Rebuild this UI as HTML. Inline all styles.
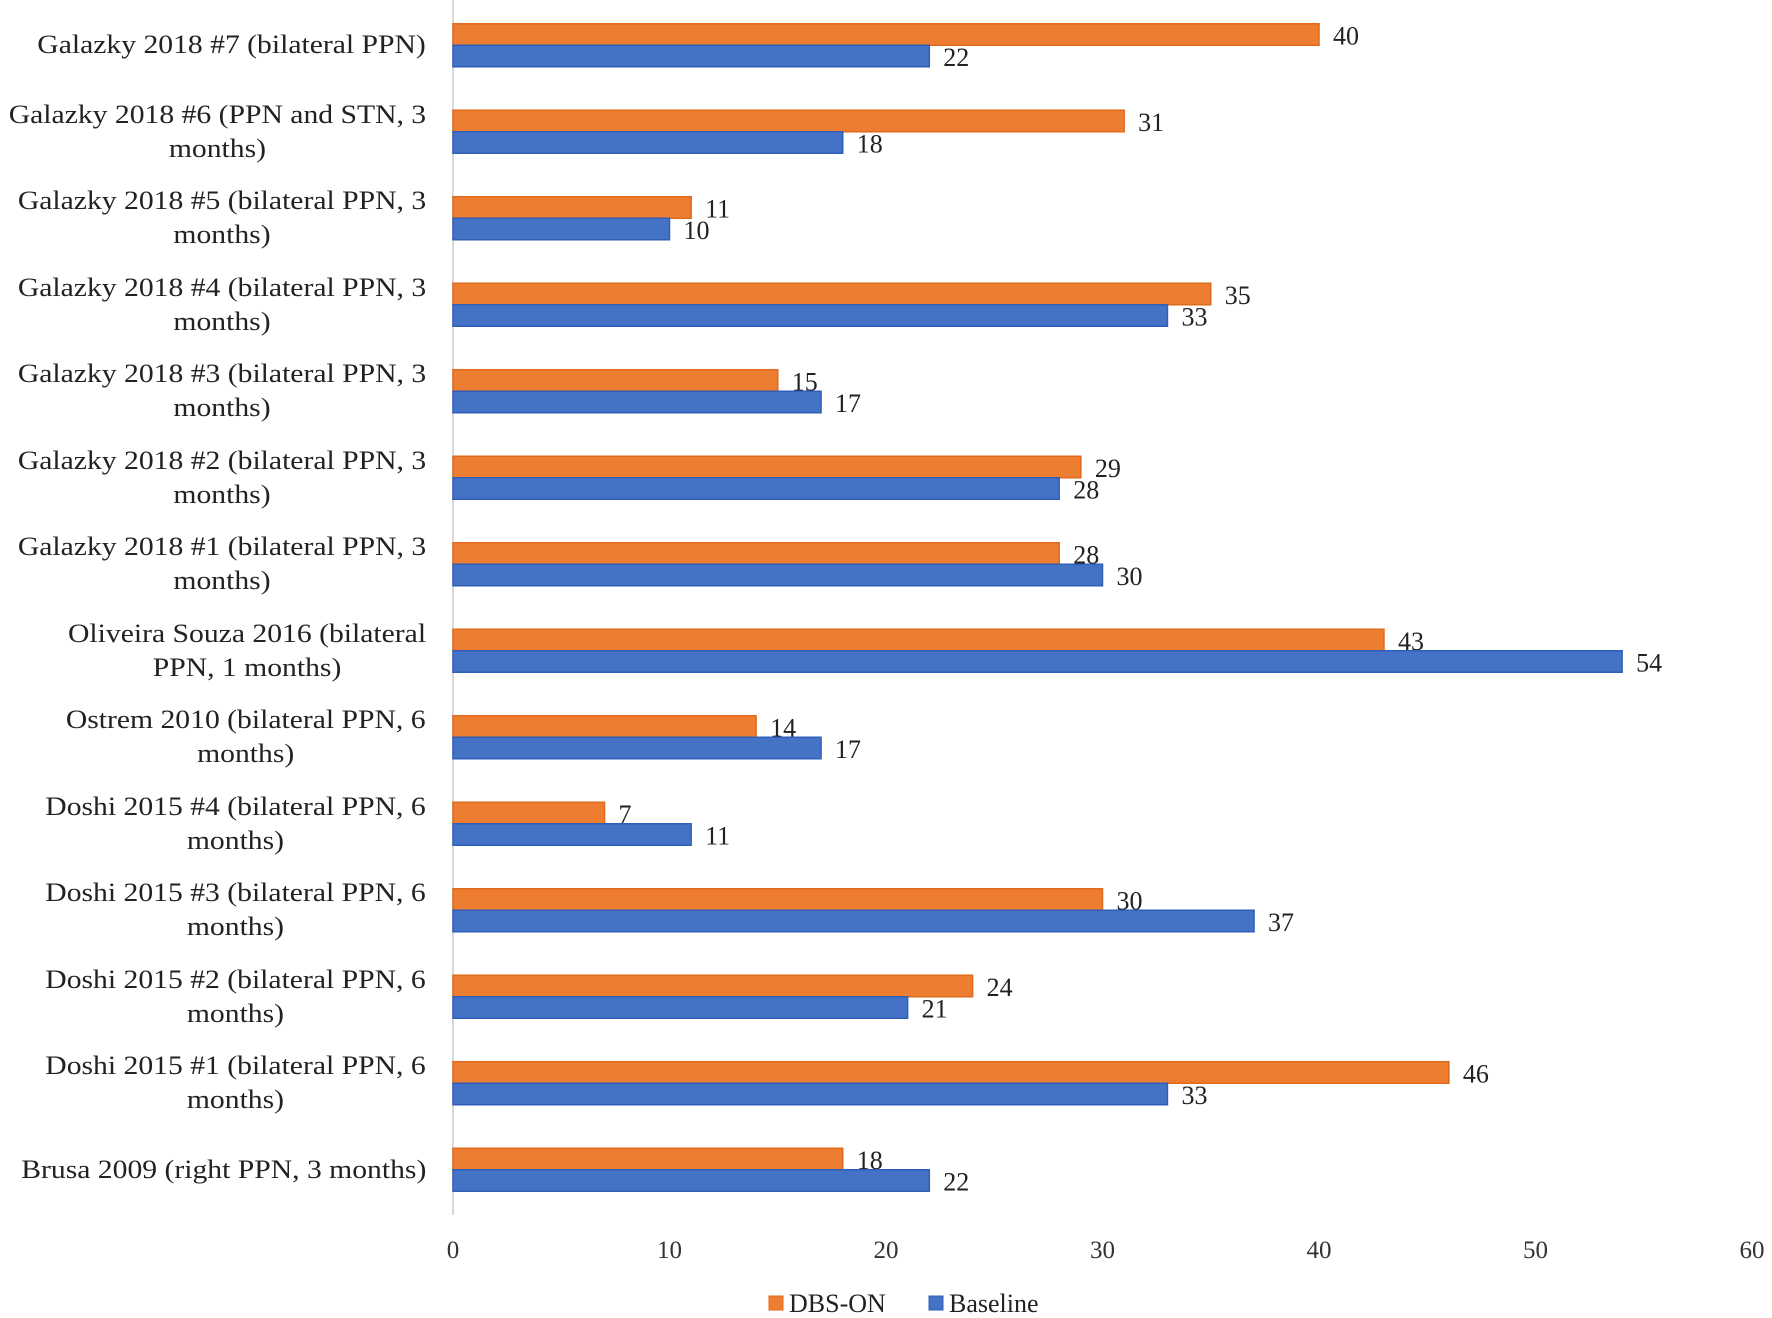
<!DOCTYPE html>
<html><head><meta charset="utf-8"><style>
body{margin:0;background:#fff;}
#wrap{position:relative;width:1772px;height:1318px;overflow:hidden;font-family:"Liberation Serif",serif;color:#222;}
.cat{position:absolute;right:1346px;text-align:center;font-size:26px;line-height:34px;white-space:nowrap;transform:scaleX(1.14);transform-origin:right center;}
svg{position:absolute;left:0;top:0;}
</style></head><body>
<div id="wrap">
<svg id="svg" width="1772" height="1318"></svg>
</div>
<script>
const categories=[
["Galazky 2018 #7 (bilateral PPN)"],
["Galazky 2018 #6 (PPN and STN, 3","months)"],
["Galazky 2018 #5 (bilateral PPN, 3","months)"],
["Galazky 2018 #4 (bilateral PPN, 3","months)"],
["Galazky 2018 #3 (bilateral PPN, 3","months)"],
["Galazky 2018 #2 (bilateral PPN, 3","months)"],
["Galazky 2018 #1 (bilateral PPN, 3","months)"],
["Oliveira Souza 2016 (bilateral","PPN, 1 months)"],
["Ostrem 2010 (bilateral PPN, 6","months)"],
["Doshi 2015 #4 (bilateral PPN, 6","months)"],
["Doshi 2015 #3 (bilateral PPN, 6","months)"],
["Doshi 2015 #2 (bilateral PPN, 6","months)"],
["Doshi 2015 #1 (bilateral PPN, 6","months)"],
["Brusa 2009 (right PPN, 3 months)"]];
const dbsOn=[40,31,11,35,15,29,28,43,14,7,30,24,46,18];
const baseline=[22,18,10,33,17,28,30,54,17,11,37,21,33,22];
const ticks=[0,10,20,30,40,50,60];

const NS="http://www.w3.org/2000/svg";
const svg=document.getElementById('svg');
const wrap=document.getElementById('wrap');
const x0=453,x1=1752,xmax=60;
const xs=v=>x0+(x1-x0)*v/xmax;
const rowTop=2,rowH=86.5;
const yc=i=>rowTop+rowH*(i+0.5);
const bh=21.5;
function mk(tag,attrs){const e=document.createElementNS(NS,tag);for(const k in attrs)e.setAttribute(k,attrs[k]);svg.appendChild(e);return e;}

const ax=mk('line',{x1:x0,x2:x0,y1:0,y2:1215,stroke:'#d9d9d9','stroke-width':2});



categories.forEach((c,i)=>{
  const d=document.createElement('div');
  d.className='cat';
  d.innerHTML=c.join('<br>');
  d.style.top=(yc(i)-17*c.length)+'px';
  
  
  wrap.appendChild(d);
  [[dbsOn[i],'#ED7D31','#E0691A',yc(i)-bh,'bar-dbs-on'],[baseline[i],'#4472C4','#2F5FB8',yc(i),'bar-baseline']].forEach(s=>{
    const r=mk('rect',{x:x0,y:s[3],width:xs(s[0])-x0,height:bh,fill:s[1],stroke:s[2],'stroke-width':1.5});
    
    
    const t=mk('text',{x:xs(s[0])+14,y:s[3]+bh/2+10,'font-size':26,'font-family':'Liberation Serif, serif',fill:'#222'});
    t.textContent=s[0];
    
    
  });
});
ticks.forEach(v=>{
  const t=mk('text',{x:xs(v),y:1258,'text-anchor':'middle','font-size':25,'font-family':'Liberation Serif, serif',fill:'#333'});
  t.textContent=v;
  
  
});
[['DBS-ON','#ED7D31','#E0691A',769],['Baseline','#4472C4','#2F5FB8',929]].forEach(l=>{
  const r=mk('rect',{x:l[3],y:1296,width:14,height:14,fill:l[1],stroke:l[2]});
  
  
  const t=mk('text',{x:l[3]+20,y:1312,'font-size':26,'font-family':'Liberation Serif, serif',fill:'#222'});
  t.textContent=l[0];
  
  
});
</script>
</body></html>
